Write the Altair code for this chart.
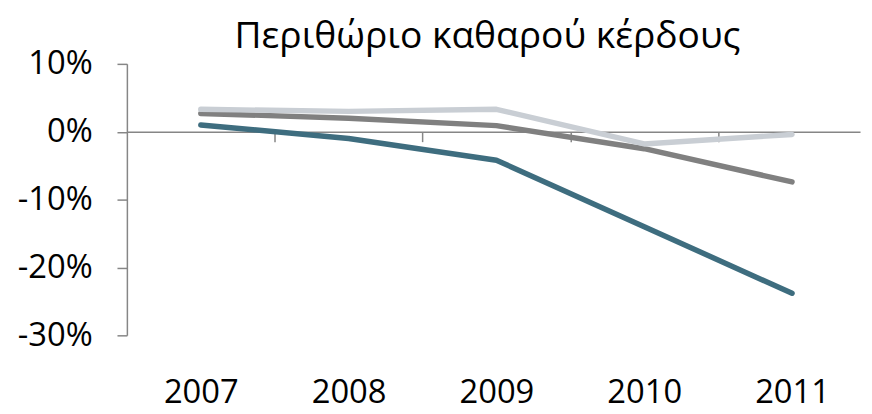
import altair as alt
import pandas as pd

years = [2007, 2008, 2009, 2010, 2011]
series_names = ["Σειρά 1", "Σειρά 2", "Σειρά 3"]
teal_vals = [0.010, -0.010, -0.042, -0.140, -0.238]
grey_vals = [0.027, 0.020, 0.009, -0.025, -0.074]
light_vals = [0.033, 0.030, 0.033, -0.018, -0.004]
series_colors = ["#3E6D7F", "#808080", "#C9CED4"]
y_ticks = [-0.3, -0.2, -0.1, 0.0, 0.1]
x_boundaries = [2007.5, 2008.5, 2009.5, 2010.5]

rows = []
for name, vals in zip(series_names, [teal_vals, grey_vals, light_vals]):
    for yr, v in zip(years, vals):
        rows.append({"year": yr, "value": v, "series": name})
df = pd.DataFrame(rows)

W, H = 740, 274
ymin, ymax = -0.3, 0.1
zero_offset = H * (0 - ymin) / (ymax - ymin)
FONT = "Open Sans"
AX = "#868686"

x_scale = alt.Scale(domain=[2006.5, 2011.46], nice=False, zero=False)
y_scale = alt.Scale(domain=[ymin, ymax], nice=False)

lines = alt.Chart(df).mark_line(strokeWidth=5.5, strokeCap="round", strokeJoin="round").encode(
    x=alt.X("year:Q", scale=x_scale,
            axis=alt.Axis(values=years, format="d", title=None, domain=False, ticks=False,
                          grid=False, labelFontSize=33, labelFont=FONT, labelColor="#000000",
                          labelPadding=42, orient="bottom", labelFlush=False)),
    y=alt.Y("value:Q", scale=y_scale,
            axis=alt.Axis(values=y_ticks, title=None, grid=False, domainColor=AX, tickColor=AX,
                          tickSize=10, domainWidth=1.5, tickWidth=1.5,
                          labelExpr="round(datum.value*100) + '%'",
                          labelFontSize=33, labelFont=FONT, labelColor="#000000",
                          labelPadding=25)),
    color=alt.Color("series:N", scale=alt.Scale(domain=series_names, range=series_colors), legend=None),
    order=alt.Order("year:Q"),
)

tick_df = pd.DataFrame({"b": x_boundaries, "z": [0.0] * len(x_boundaries)})
zero_axis = alt.Chart(tick_df).mark_point(opacity=0).encode(
    x=alt.X("b:Q", scale=x_scale,
            axis=alt.Axis(values=x_boundaries, labels=False, title=None, grid=False, orient="bottom",
                          offset=-zero_offset, domainColor=AX, tickColor=AX, tickSize=10,
                          domainWidth=1.5, tickWidth=1.5)),
    y=alt.Y("z:Q", scale=y_scale),
)

chart = alt.layer(zero_axis, lines).resolve_axis(x="independent").properties(
    width=W, height=H,
    autosize=alt.AutoSizeParams(type="none"),
    padding={"left": 120, "top": 54.5, "right": 4, "bottom": 77},
    title=alt.Title("Περιθώριο καθαρού κέρδους", font=FONT, fontSize=37.5, fontWeight="normal",
                    color="#000000", anchor="middle", offset=14, dy=21, dx=-6),
).configure_view(stroke=None)

chart.save("out.html", embed_options={"renderer": "svg", "actions": False})
